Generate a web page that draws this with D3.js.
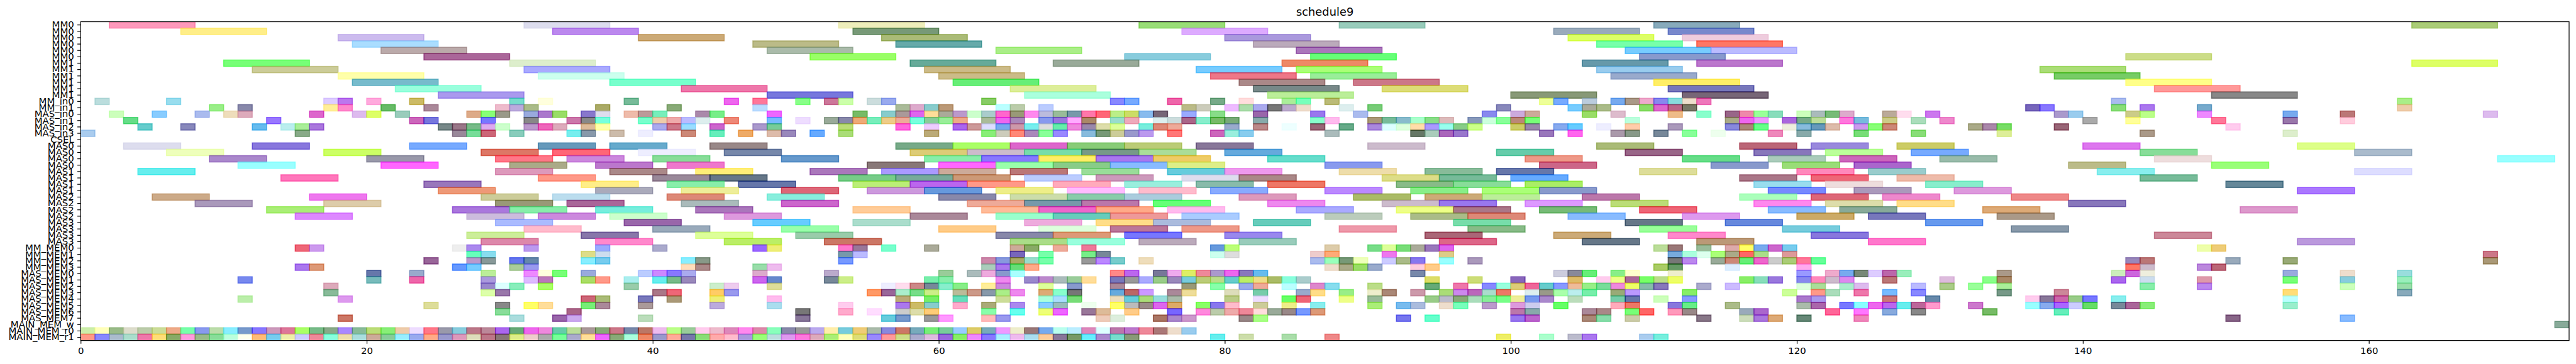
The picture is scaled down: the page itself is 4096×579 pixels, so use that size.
<!DOCTYPE html>
<html><head><meta charset="utf-8">
<style>html,body{margin:0;padding:0;background:#fff;overflow:hidden}svg{display:block}text{font-family:"DejaVu Sans",sans-serif;fill:#000}</style>
<script src="https://cdn.jsdelivr.net/npm/d3@7"></script>
</head><body>
<script>
const chartTitle = "schedule9";
const xTicks = [0,20,40,60,80,100,120,140,160];
const xMax = 174;
const rowLabels = ["MM0","MM0","MM0","MM0","MM0","MM0","MM1","MM1","MM1","MM1","MM1","MM1","MM_in0","MM_in1","MAS_in0","MAS_in1","MAS_in2","MAS_in3","CSEL","MAS0","MAS0","MAS0","MAS0","MAS1","MAS1","MAS1","MAS1","MAS2","MAS2","MAS2","MAS2","MAS3","MAS3","MAS3","MAS3","MM_MEM0","MM_MEM1","MM_MEM2","MM_MEM3","MAS_MEM0","MAS_MEM1","MAS_MEM2","MAS_MEM3","MAS_MEM4","MAS_MEM5","MAS_MEM6","MAS_MEM7","MAIN_MEM_w","MAIN_MEM_r0","MAIN_MEM_r1"];
// each row: [start time, visible colour]
const row00=[[2,"f9b"],[31,"dde"],[53,"eeb"],[74,"9d7"],[88,"9cb"],[110,"8ab"],[163,"ac7"]];
const row01=[[7,"fe8"],[33,"b8e"],[54,"797"],[77,"daf"],[103,"9ab"],[111,"78c"]];
const row02=[[18,"cbe"],[39,"ca7"],[56,"ab7"],[80,"a9d"],[104,"df6"],[112,"ecd"]];
const row03=[[19,"adf"],[47,"bb8"],[57,"6aa"],[82,"bab"],[106,"7fa"],[113,"f76"]];
const row04=[[21,"baa"],[48,"aba"],[64,"ae8"],[85,"a7b"],[108,"7cf"],[114,"bbf"]];
const row05=[[24,"a69"],[51,"9f6"],[73,"8cd"],[86,"6f7"],[109,"89c"],[143,"cd8"]];
const row06=[[10,"7f7"],[30,"dec"],[58,"6a9"],[68,"9a9"],[84,"e86"],[105,"69a"],[113,"b7c"],[163,"df6"]];
const row07=[[12,"cc9"],[31,"aaf"],[59,"cb8"],[78,"7cf"],[85,"af7"],[106,"9ce"],[137,"ad7"]];
const row08=[[18,"ffa"],[32,"cfe"],[60,"cb8"],[79,"e78"],[86,"9e9"],[107,"9ac"],[138,"7c6"]];
const row09=[[19,"7bc"],[37,"7fc"],[61,"6e7"],[81,"a88"],[89,"c78"],[110,"fe6"],[143,"ff8"]];
const row10=[[22,"9fd"],[42,"e7a"],[65,"de9"],[82,"788"],[91,"dd7"],[111,"77b"],[145,"f99"]];
const row11=[[25,"a9e"],[48,"77d"],[66,"afd"],[83,"be9"],[100,"897"],[112,"767"],[149,"888"]];
const row12=[[1,"bdd"],[6,"9de"],[17,"dcf"],[18,"b7e"],[20,"fad"],[23,"cb6"],[30,"7dc"],[32,"ffd"],[38,"7b9"],[45,"e6e"],[47,"f79"],[50,"8f8"],[52,"c79"],[53,"cfa"],[55,"cdd"],[56,"9ae"],[63,"8c6"],[72,"88f"],[73,"7af"],[76,"e6a"],[79,"7a8"],[81,"fdd"],[84,"ae9"],[85,"7fb"],[87,"bb7"],[102,"ef9"],[103,"7af"],[105,"bcd"],[107,"7ae"],[108,"a98"],[109,"eac"],[110,"88e"],[111,"8dd"],[112,"edc"],[113,"e7b"],[142,"abe"],[162,"ae8"]];
const row13=[[9,"9e8"],[11,"88a"],[17,"fe9"],[18,"f8c"],[21,"6b6"],[24,"a89"],[29,"ebc"],[30,"bad"],[31,"ab8"],[36,"aa6"],[41,"8a7"],[47,"bdf"],[57,"ab9"],[58,"dac"],[59,"8cc"],[60,"b97"],[64,"bff"],[65,"bca"],[67,"bcf"],[77,"bb8"],[78,"ccb"],[80,"ebf"],[81,"ada"],[82,"aae"],[83,"777"],[84,"bac"],[85,"edc"],[88,"dee"],[90,"7c7"],[99,"88b"],[104,"7cf"],[105,"aa9"],[106,"ab8"],[109,"8d6"],[110,"d6c"],[111,"b68"],[112,"776"],[136,"76b"],[137,"87f"],[142,"8d7"],[144,"a7e"],[148,"7ac"],[162,"eca"]];
const row14=[[2,"cfb"],[5,"8cf"],[8,"abe"],[10,"edb"],[11,"dab"],[16,"d6c"],[19,"dbe"],[20,"df5"],[22,"9cb"],[27,"da8"],[28,"8f7"],[29,"998"],[31,"9ad"],[32,"a7c"],[33,"9d6"],[35,"87c"],[36,"dde"],[38,"eba"],[39,"b99"],[40,"7eb"],[43,"a8a"],[44,"7e8"],[48,"e6f"],[54,"7b6"],[56,"8cc"],[57,"a99"],[58,"d6e"],[59,"fd9"],[60,"aa9"],[61,"b9c"],[62,"cfc"],[63,"acc"],[64,"f6c"],[65,"997"],[66,"f8e"],[67,"bbd"],[68,"9b9"],[69,"79a"],[70,"f7a"],[71,"f67"],[72,"be8"],[73,"cd6"],[74,"8be"],[75,"767"],[77,"9af"],[79,"8d8"],[82,"96a"],[86,"97e"],[89,"abe"],[98,"88e"],[100,"cad"],[101,"ca9"],[105,"9d6"],[107,"dbc"],[111,"eb8"],[113,"8fc"],[115,"968"],[116,"e8a"],[117,"9f9"],[118,"8db"],[120,"cfb"],[121,"abb"],[122,"7b7"],[123,"dac"],[126,"ba9"],[127,"fde"],[129,"c7e"],[138,"a9c"],[139,"9ce"],[143,"cc8"],[144,"bf8"],[148,"e8f"],[154,"7ae"],[158,"b77"],[168,"dbe"]];
const row15=[[3,"6d8"],[13,"97f"],[23,"c6b"],[24,"77d"],[28,"77f"],[31,"888"],[34,"c7a"],[35,"888"],[36,"7fd"],[39,"7fc"],[40,"eca"],[41,"eaa"],[42,"bbf"],[43,"dee"],[45,"e87"],[48,"7bf"],[50,"edf"],[52,"9a9"],[53,"88a"],[54,"ea7"],[55,"7eb"],[56,"ec8"],[57,"ea9"],[58,"7fd"],[59,"8c9"],[60,"9e9"],[61,"ea8"],[63,"ab9"],[64,"e6e"],[65,"a8b"],[67,"89e"],[68,"97d"],[69,"faf"],[70,"a86"],[72,"9dc"],[73,"eab"],[75,"dee"],[76,"cdd"],[77,"a68"],[78,"8ec"],[79,"7b6"],[80,"7a7"],[82,"8aa"],[86,"8fc"],[87,"fbe"],[90,"a97"],[91,"7b9"],[92,"8bc"],[93,"afc"],[94,"8d8"],[95,"dbb"],[97,"89b"],[98,"cfd"],[99,"8f9"],[100,"b87"],[101,"7f7"],[108,"bfd"],[115,"aa8"],[116,"e6e"],[117,"e9f"],[119,"a6d"],[120,"7a8"],[121,"bd9"],[123,"f7d"],[124,"7bd"],[126,"cc8"],[128,"adb"],[130,"e8c"],[140,"aaa"],[143,"ff9"],[149,"f79"],[154,"97a"],[158,"fcd"]];
const row16=[[4,"6cc"],[7,"88b"],[12,"6be"],[14,"bee"],[15,"ae9"],[16,"a7d"],[25,"788"],[26,"978"],[27,"7b8"],[28,"dae"],[29,"cfc"],[31,"b9c"],[32,"e6b"],[33,"dab"],[35,"db9"],[36,"ffa"],[40,"aae"],[41,"c78"],[42,"9df"],[44,"c6c"],[47,"a9c"],[48,"7c9"],[53,"bd7"],[57,"f6d"],[59,"ecf"],[61,"a6e"],[62,"c99"],[63,"ddf"],[64,"7ae"],[65,"c9a"],[66,"7ee"],[67,"ddd"],[68,"6ea"],[69,"e8d"],[70,"98a"],[71,"dda"],[72,"df9"],[74,"7ed"],[75,"d87"],[76,"ea9"],[80,"9ac"],[82,"b88"],[84,"eff"],[86,"967"],[88,"6a8"],[90,"a8d"],[91,"dff"],[92,"dfd"],[93,"fda"],[94,"a9f"],[95,"9fe"],[96,"8c8"],[97,"cf8"],[100,"cc6"],[101,"98a"],[103,"8ae"],[104,"6cf"],[106,"eef"],[108,"fca"],[111,"a9b"],[115,"88d"],[116,"a87"],[117,"6f8"],[119,"eed"],[120,"8bd"],[121,"69b"],[122,"dba"],[124,"c9e"],[125,"8f7"],[126,"c87"],[132,"aa8"],[133,"a8a"],[134,"7d6"],[138,"967"],[150,"fce"]];
const row17=[[0,"ace"],[15,"8a8"],[26,"989"],[27,"7d9"],[28,"c67"],[30,"8cb"],[34,"7ee"],[35,"89a"],[37,"cba"],[39,"eef"],[42,"c87"],[44,"6eb"],[46,"ea6"],[48,"dba"],[49,"98b"],[51,"6af"],[53,"ad7"],[59,"ba7"],[63,"8e7"],[64,"ccb"],[65,"f87"],[66,"a8b"],[67,"8f9"],[68,"98f"],[70,"8bd"],[71,"797"],[72,"cc9"],[73,"99c"],[74,"b9e"],[76,"f77"],[79,"c6b"],[80,"9ed"],[81,"8ce"],[87,"abb"],[93,"676"],[94,"acb"],[95,"a6b"],[96,"97c"],[102,"97b"],[104,"f6e"],[107,"a9a"],[108,"898"],[110,"789"],[112,"8f9"],[114,"efe"],[118,"e8b"],[120,"8aa"],[124,"7d7"],[128,"8d7"],[134,"de9"],[144,"a98"],[154,"dec"]];
const row18=[];
const row19=[[3,"dde"],[12,"87d"],[23,"7af"],[32,"69b"],[37,"6ac"],[44,"988"],[57,"7a8"],[61,"af6"],[65,"d6c"],[69,"8c7"],[73,"bc7"],[78,"879"],[90,"cbc"],[106,"ab7"],[116,"b67"],[121,"98d"],[127,"cc6"],[140,"d7e"],[155,"df8"]];
const row20=[[6,"efb"],[17,"cf6"],[28,"d76"],[33,"f67"],[39,"eef"],[45,"78a"],[58,"dc7"],[62,"cbc"],[66,"7da"],[70,"798"],[74,"ad9"],[80,"6ad"],[99,"6ca"],[108,"968"],[117,"87b"],[122,"bf9"],[128,"7af"],[144,"8d9"],[159,"abc"]];
const row21=[[9,"a8c"],[20,"99a"],[29,"f78"],[34,"c8d"],[40,"8d9"],[49,"69c"],[59,"8ea"],[63,"87f"],[67,"fe6"],[71,"a7e"],[75,"ec6"],[83,"6dc"],[101,"e98"],[112,"6d8"],[118,"acb"],[123,"c6b"],[130,"9ba"],[145,"edd"],[169,"9ff"]];
const row22=[[11,"9ff"],[21,"f6f"],[30,"aa8"],[36,"b7c"],[41,"e7c"],[55,"877"],[60,"f6f"],[64,"9fa"],[68,"8c8"],[72,"8bf"],[76,"de8"],[87,"89e"],[102,"c68"],[114,"89c"],[119,"9d7"],[124,"a6c"],[139,"bb8"],[149,"9f7"]];
const row23=[[4,"6ee"],[29,"d9b"],[37,"a88"],[43,"fe7"],[51,"a7b"],[56,"a9f"],[60,"ca9"],[65,"b77"],[70,"9d9"],[76,"6cd"],[80,"e9e"],[88,"eda"],[94,"8b9"],[99,"67a"],[109,"dd9"],[120,"f8b"],[125,"9cc"],[141,"8ee"],[159,"ddf"]];
const row24=[[14,"f7b"],[32,"f98"],[40,"989"],[44,"678"],[53,"7c8"],[57,"7a9"],[61,"c97"],[66,"bcf"],[71,"c9b"],[77,"dde"],[81,"a88"],[91,"dd8"],[95,"7b9"],[100,"6af"],[116,"a78"],[121,"e67"],[127,"eba"],[144,"7b9"]];
const row25=[[24,"97b"],[35,"fe8"],[41,"8ea"],[46,"67a"],[54,"be7"],[58,"b6e"],[62,"f98"],[68,"fab"],[73,"9ed"],[78,"8ba"],[83,"e76"],[92,"8b8"],[96,"8d9"],[101,"ae6"],[117,"9de"],[122,"edd"],[129,"8ec"],[150,"689"]];
const row26=[[25,"e97"],[36,"aab"],[42,"ee9"],[49,"d67"],[55,"c9d"],[59,"69d"],[64,"ee8"],[69,"fbf"],[74,"fbc"],[79,"8af"],[87,"b8f"],[93,"8e8"],[98,"af7"],[102,"89c"],[118,"78f"],[124,"a9b"],[131,"d9d"],[155,"a7f"]];
const row27=[[5,"ca8"],[16,"e7e"],[28,"cc9"],[33,"bde"],[41,"d87"],[48,"8ed"],[60,"88a"],[65,"cda"],[69,"8ca"],[73,"acd"],[81,"d9b"],[89,"ab6"],[94,"ca7"],[98,"be9"],[105,"b7a"],[116,"afb"],[121,"d67"],[126,"e8c"],[135,"e88"]];
const row28=[[8,"a9b"],[17,"dca"],[29,"997"],[34,"a69"],[42,"abb"],[49,"c6c"],[62,"ea9"],[66,"79a"],[70,"b7a"],[75,"6f7"],[83,"e8e"],[91,"cbc"],[95,"97e"],[101,"d9f"],[107,"bd7"],[117,"f8e"],[122,"dda"],[127,"fd8"],[139,"87b"]];
const row29=[[13,"ae7"],[26,"a7d"],[30,"8ea"],[36,"7ed"],[43,"a7b"],[54,"fc9"],[63,"fb9"],[67,"e6c"],[71,"fa8"],[76,"fbe"],[85,"aaf"],[92,"ef8"],[96,"a78"],[102,"7b7"],[109,"e67"],[118,"8bf"],[123,"8a9"],[133,"da7"],[151,"d9c"]];
const row30=[[15,"d8f"],[27,"cbd"],[32,"c8d"],[37,"cfc"],[45,"d9d"],[58,"a89"],[64,"9fc"],[68,"6cb"],[72,"e99"],[77,"acf"],[87,"bcb"],[93,"ab8"],[97,"d87"],[104,"8bf"],[112,"d9e"],[120,"ca6"],[125,"77b"],[134,"a98"]];
const row31=[[29,"abf"],[38,"96a"],[47,"6cf"],[54,"adc"],[66,"ead"],[71,"fd8"],[75,"abd"],[82,"6cb"],[96,"7da"],[108,"678"],[115,"68d"],[129,"69e"]];
const row32=[[31,"fbc"],[40,"9ab"],[49,"9fa"],[60,"fc8"],[67,"dfd"],[72,"b79"],[77,"e98"],[88,"e9a"],[97,"8b8"],[109,"9f9"],[119,"7cd"],[135,"89a"]];
const row33=[[27,"ce9"],[35,"87a"],[43,"df9"],[50,"9ca"],[64,"88a"],[68,"d97"],[73,"77f"],[80,"98e"],[94,"a67"],[103,"ca7"],[111,"f8c"],[121,"87d"],[145,"c89"]];
const row34=[[28,"d8a"],[36,"f8c"],[45,"be6"],[52,"c76"],[65,"ad8"],[69,"9fd"],[74,"bab"],[81,"9cb"],[95,"d68"],[105,"678"],[113,"b97"],[125,"f7c"],[155,"b9d"]];
const row35=[[15,"e67"],[16,"c9e"],[26,"eee"],[27,"a8e"],[31,"b9e"],[36,"9af"],[40,"aac"],[47,"96f"],[48,"ee7"],[53,"f7c"],[54,"979"],[56,"7fc"],[59,"aa9"],[65,"ca9"],[66,"8a6"],[68,"ea9"],[70,"e79"],[79,"69d"],[80,"bf7"],[87,"dca"],[90,"7d8"],[91,"df9"],[92,"7d7"],[93,"aa9"],[94,"97b"],[95,"d6e"],[110,"bd9"],[111,"977"],[113,"9b9"],[115,"daa"],[116,"ff6"],[117,"7ae"],[118,"c6c"],[119,"7ce"],[148,"efa"],[149,"ec7"]];
const row36=[[27,"6fb"],[28,"8de"],[35,"dd8"],[36,"cde"],[53,"79a"],[54,"bbf"],[65,"76b"],[67,"7fa"],[70,"7e8"],[71,"789"],[79,"cfe"],[80,"ddd"],[86,"ecc"],[87,"fa7"],[91,"e7e"],[95,"dc8"],[111,"7ad"],[112,"afd"],[113,"dfe"],[114,"af7"],[115,"aa8"],[116,"f66"],[117,"ad8"],[119,"d99"],[168,"c78"]];
const row37=[[24,"969"],[27,"b9c"],[28,"899"],[30,"67e"],[31,"68a"],[35,"8ef"],[36,"7ce"],[42,"8ef"],[43,"898"],[53,"79f"],[63,"c8a"],[64,"89d"],[65,"aa6"],[66,"9dc"],[67,"7fa"],[70,"999"],[71,"b8f"],[72,"7cc"],[74,"edb"],[86,"abe"],[87,"9fb"],[88,"797"],[89,"efb"],[91,"ccf"],[92,"ab8"],[93,"87e"],[95,"9ff"],[97,"a9b"],[111,"777"],[112,"b8e"],[114,"9a9"],[115,"c87"],[116,"6e7"],[117,"e6c"],[118,"ccc"],[119,"ac7"],[120,"f79"],[121,"6f9"],[143,"98b"],[144,"b77"],[150,"9ab"],[154,"9a7"],[168,"a97"]];
const row38=[[15,"a7e"],[16,"d97"],[26,"69f"],[27,"7cf"],[30,"ac9"],[31,"99e"],[42,"fdb"],[43,"a88"],[47,"9da"],[48,"ebe"],[63,"acb"],[64,"a7e"],[65,"6d7"],[66,"fa8"],[87,"edc"],[88,"aa8"],[89,"9d6"],[90,"9ac"],[93,"fcd"],[94,"fc8"],[110,"ac6"],[111,"696"],[115,"def"],[120,"fae"],[143,"f76"],[144,"cbc"],[148,"b8d"],[149,"b67"]];
const row39=[[20,"67a"],[23,"9ac"],[28,"be9"],[31,"e8f"],[32,"ffd"],[33,"7f7"],[35,"9ad"],[39,"bcf"],[40,"c8f"],[41,"87f"],[42,"aae"],[47,"dac"],[52,"bac"],[60,"9c9"],[62,"abb"],[63,"ead"],[64,"89c"],[65,"aff"],[72,"f88"],[73,"b6e"],[75,"779"],[76,"eae"],[77,"de6"],[78,"e89"],[79,"a9c"],[80,"e6e"],[81,"87b"],[82,"6be"],[93,"78a"],[103,"ccd"],[104,"889"],[105,"6e7"],[107,"8e8"],[108,"ffc"],[111,"eec"],[120,"99f"],[122,"eac"],[123,"7ae"],[124,"787"],[125,"dcf"],[126,"b6a"],[127,"9eb"],[134,"a98"],[142,"ceb"],[143,"c6d"],[144,"eed"],[154,"9ad"],[158,"edc"],[162,"9dd"]];
const row40=[[11,"78e"],[20,"7bb"],[23,"e6a"],[28,"a9d"],[31,"dbf"],[32,"b7b"],[35,"ad6"],[36,"f98"],[38,"aee"],[40,"6ee"],[41,"7b8"],[42,"98b"],[47,"c6e"],[48,"68c"],[52,"789"],[53,"ce8"],[59,"7ea"],[60,"8ea"],[64,"e8e"],[66,"98c"],[67,"b8c"],[68,"abb"],[69,"9c9"],[70,"fd9"],[72,"77b"],[73,"999"],[74,"aaf"],[75,"9c8"],[76,"98b"],[77,"7cd"],[78,"bc7"],[79,"bd8"],[80,"6cc"],[81,"be6"],[82,"ed8"],[83,"ab6"],[84,"8fd"],[85,"acc"],[94,"dd6"],[97,"cd7"],[100,"86b"],[104,"db6"],[106,"fce"],[107,"ef8"],[108,"a69"],[109,"7f6"],[110,"bd8"],[111,"ef6"],[116,"8e6"],[117,"8db"],[118,"97d"],[120,"88e"],[121,"f8b"],[122,"cbc"],[123,"d8e"],[126,"b77"],[130,"dbd"],[133,"8f8"],[134,"a86"],[142,"a6e"],[144,"cde"],[148,"d9a"],[154,"7f7"],[158,"8cd"],[162,"9eb"]];
const row41=[[17,"dab"],[28,"98c"],[29,"dff"],[30,"8eb"],[32,"af6"],[38,"9ca"],[44,"cec"],[45,"ece"],[48,"dd9"],[56,"eef"],[57,"fde"],[58,"c88"],[59,"789"],[60,"8ec"],[61,"8e8"],[63,"fe9"],[64,"c8d"],[67,"df9"],[69,"89c"],[72,"a89"],[77,"997"],[79,"8fa"],[81,"9ae"],[82,"ea9"],[84,"bff"],[86,"d8c"],[87,"8de"],[90,"bd8"],[94,"6a7"],[96,"e7a"],[98,"88f"],[99,"9fd"],[100,"dc7"],[101,"e69"],[102,"6cc"],[103,"89f"],[104,"eb9"],[105,"9e8"],[106,"7d9"],[107,"e8d"],[108,"ef6"],[109,"8ba"],[110,"87b"],[113,"aac"],[115,"cbf"],[120,"dfd"],[121,"ad9"],[123,"aec"],[124,"dbe"],[128,"bbf"],[130,"ac8"],[132,"9f9"],[134,"ae9"],[144,"8ea"],[148,"b8e"],[158,"cfb"],[162,"9da"]];
const row42=[[17,"8b9"],[28,"dfa"],[29,"97a"],[40,"a78"],[41,"e67"],[44,"fc6"],[45,"99e"],[55,"f96"],[56,"969"],[57,"aec"],[58,"7d8"],[59,"ce8"],[61,"bb9"],[62,"c98"],[63,"89a"],[64,"ae8"],[65,"e8e"],[67,"da7"],[68,"8fc"],[69,"777"],[72,"6ad"],[73,"b66"],[74,"c9f"],[76,"a89"],[77,"ed9"],[80,"ddb"],[82,"7ca"],[85,"9ac"],[86,"fd8"],[88,"9e8"],[90,"eec"],[91,"a87"],[93,"c9a"],[95,"ad7"],[96,"c8e"],[97,"b6b"],[98,"adc"],[99,"e76"],[101,"dee"],[102,"998"],[103,"afa"],[104,"bee"],[105,"7ea"],[107,"9a7"],[108,"b9f"],[112,"8e6"],[119,"cf9"],[121,"f98"],[122,"adb"],[124,"e7a"],[126,"7bf"],[128,"88f"],[134,"798"],[138,"c89"],[154,"fd7"],[162,"8ab"]];
const row43=[[11,"bea"],[18,"d9e"],[35,"c67"],[36,"ab7"],[39,"77b"],[41,"a97"],[44,"ee7"],[48,"fbe"],[57,"ba7"],[59,"7e6"],[61,"6db"],[64,"cd9"],[67,"afd"],[68,"adf"],[69,"7d7"],[72,"edb"],[73,"6cd"],[74,"ad7"],[75,"9dd"],[76,"aba"],[80,"bc8"],[82,"edf"],[84,"6f6"],[85,"e67"],[88,"ef8"],[90,"9b9"],[94,"9c8"],[95,"bbc"],[96,"8a7"],[97,"adb"],[98,"8e9"],[99,"7f8"],[100,"ee9"],[101,"79e"],[102,"a8c"],[104,"bdb"],[107,"7ca"],[108,"67a"],[110,"cfb"],[112,"89f"],[120,"a7c"],[121,"a9e"],[126,"c77"],[129,"68a"],[136,"fce"],[137,"879"],[138,"c6a"],[139,"9c8"],[140,"77f"],[142,"8ee"],[154,"bff"]];
const row44=[[24,"dd9"],[29,"888"],[31,"ff6"],[32,"fd9"],[35,"7e7"],[36,"a89"],[39,"a99"],[44,"bad"],[48,"ade"],[53,"fce"],[57,"a7e"],[58,"cb6"],[59,"8cc"],[61,"fac"],[63,"aa7"],[65,"a8e"],[67,"8cf"],[68,"9bb"],[70,"efe"],[72,"ff6"],[73,"bbb"],[74,"988"],[75,"d6e"],[76,"da6"],[78,"8f6"],[79,"87e"],[80,"fbc"],[82,"cc9"],[84,"ee8"],[86,"8ee"],[90,"ae7"],[92,"7be"],[93,"abd"],[95,"edc"],[96,"7fb"],[98,"b9c"],[100,"d9d"],[101,"cce"],[103,"6f6"],[107,"fab"],[108,"e76"],[111,"87d"],[112,"6e8"],[115,"ab8"],[120,"aba"],[121,"a6a"],[123,"77f"],[124,"8ff"],[125,"e6e"],[126,"b6e"],[127,"6ee"],[128,"b69"],[129,"f9c"],[132,"c7c"],[136,"9ff"],[137,"8ae"],[138,"a6f"],[139,"ccf"],[140,"6d6"],[142,"789"],[143,"a69"],[144,"8e7"],[154,"9ec"]];
const row45=[[29,"8d9"],[34,"a68"],[50,"777"],[53,"fac"],[55,"fdf"],[57,"ccc"],[58,"dda"],[59,"fc7"],[63,"8fa"],[65,"6fe"],[67,"ef7"],[68,"e6f"],[70,"979"],[71,"db9"],[73,"fc8"],[76,"76f"],[78,"f8d"],[79,"bca"],[80,"eaa"],[81,"e89"],[82,"fdd"],[83,"9a9"],[84,"988"],[85,"79f"],[86,"d97"],[100,"b7a"],[101,"8aa"],[105,"a89"],[106,"a88"],[108,"7f7"],[109,"f66"],[111,"f9b"],[112,"988"],[116,"9ab"],[117,"a6c"],[122,"f69"],[124,"f7f"],[126,"8ad"],[128,"888"],[133,"7b6"],[138,"6eb"]];
const row46=[[18,"c76"],[30,"add"],[33,"96a"],[34,"cae"],[39,"bdb"],[50,"879"],[56,"6cd"],[57,"79c"],[59,"999"],[60,"f9f"],[63,"fbb"],[64,"99e"],[71,"ecb"],[72,"ded"],[75,"a76"],[76,"a8c"],[77,"c9c"],[81,"988"],[82,"af8"],[92,"77e"],[94,"6fc"],[100,"97e"],[101,"b6c"],[105,"a87"],[106,"8da"],[108,"cca"],[113,"878"],[116,"cdb"],[117,"a7d"],[118,"da7"],[120,"687"],[124,"e8b"],[150,"868"],[158,"8bf"]];
const row47=[[173,"8a9"]];
const row48=[[0,"cea"],[1,"ffb"],[2,"9b8"],[3,"ddc"],[4,"bca"],[5,"cd9"],[6,"ea8"],[7,"7fa"],[8,"89e"],[9,"bda"],[10,"8ef"],[11,"79c"],[12,"87f"],[13,"c9b"],[14,"d79"],[15,"af6"],[16,"7b8"],[17,"8a8"],[18,"a8f"],[19,"8b9"],[20,"bd7"],[21,"8e7"],[22,"eca"],[23,"edf"],[24,"f78"],[25,"99a"],[26,"8cd"],[27,"b78"],[28,"b89"],[29,"a6e"],[30,"6a7"],[31,"e6e"],[32,"e8d"],[33,"6ca"],[34,"bd9"],[35,"a99"],[36,"8a7"],[37,"c78"],[38,"78a"],[39,"b76"],[40,"ebe"],[41,"bf8"],[42,"9c9"],[43,"fce"],[44,"ebc"],[45,"d8b"],[46,"f8e"],[47,"d8a"],[48,"8fb"],[49,"88a"],[50,"999"],[51,"bae"],[52,"fea"],[53,"7cd"],[54,"ec7"],[55,"aba"],[56,"88d"],[57,"c76"],[58,"7ab"],[59,"7e7"],[60,"7c9"],[61,"9cf"],[62,"dc6"],[63,"7ab"],[64,"e9f"],[65,"eec"],[66,"977"],[67,"7ae"],[68,"bfe"],[69,"bef"],[70,"d8b"],[71,"dff"],[72,"b7a"],[73,"b7c"],[74,"e89"],[75,"a77"],[76,"edc"],[77,"9ce"]];
const row49=[[0,"f98"],[1,"88f"],[2,"abc"],[3,"adc"],[4,"e7a"],[5,"fd7"],[6,"8a6"],[7,"f9d"],[8,"9b8"],[9,"8d9"],[10,"bfd"],[11,"ffe"],[12,"fb7"],[13,"7ce"],[14,"eea"],[15,"ccf"],[16,"e89"],[17,"8fd"],[18,"eda"],[19,"add"],[20,"ca9"],[21,"8c9"],[22,"9ef"],[23,"9ae"],[24,"fa8"],[25,"99c"],[26,"d9b"],[27,"ddb"],[28,"b78"],[29,"877"],[30,"de8"],[31,"ecc"],[32,"aaa"],[33,"7f9"],[34,"aac"],[35,"fd9"],[36,"e6f"],[37,"8a7"],[38,"afd"],[39,"e86"],[40,"99c"],[41,"fa9"],[42,"77a"],[43,"8d7"],[44,"faa"],[45,"fbc"],[46,"a9d"],[47,"9f7"],[48,"bdd"],[49,"d9e"],[50,"f7d"],[51,"dab"],[52,"ae7"],[53,"ffb"],[54,"dd7"],[55,"98f"],[56,"f99"],[57,"cd8"],[58,"aac"],[59,"dbd"],[60,"96d"],[61,"8e6"],[62,"e8f"],[63,"87f"],[64,"aef"],[65,"ebe"],[66,"ade"],[67,"fc9"],[68,"879"],[69,"796"],[70,"6ef"],[71,"a8c"],[72,"7dc"],[73,"897"],[79,"6ee"],[81,"cda"],[84,"ada"],[87,"e88"],[99,"ee6"],[102,"afc"],[104,"bbc"],[105,"a7e"],[109,"ace"],[110,"7ed"]];
const rows=[row00,row01,row02,row03,row04,row05,row06,row07,row08,row09,row10,row11,row12,row13,row14,row15,row16,row17,row18,row19,row20,row21,row22,row23,row24,row25,row26,row27,row28,row29,row30,row31,row32,row33,row34,row35,row36,row37,row38,row39,row40,row41,row42,row43,row44,row45,row46,row47,row48,row49];

const W=4096,H=579,k=4096/7461;
const m={left:233.6*k,right:7441*k,top:63*k,bottom:986.6*k};
const alpha=0.6, edge=2.72*k, spine=2.2*k;
const durationOf=l=>/^MM\d/.test(l)?6:/^MAS\d/.test(l)?4:1;
const baseColour=h=>{const c=d3.rgb("#"+h);const f=v=>Math.max(0,Math.min(255,(v-255*(1-alpha))/alpha));return d3.rgb(f(c.r),f(c.g),f(c.b)).formatHex();};

const x=d3.scaleLinear().domain([0,xMax]).range([m.left,m.right]);
const y=d3.scaleBand().domain(d3.range(rowLabels.length)).range([m.top,m.bottom]);
const svg=d3.select("body").append("svg").attr("width",W).attr("height",H).attr("viewBox",`0 0 ${W} ${H}`);
svg.append("defs").append("clipPath").attr("id","plot").append("rect").attr("x",m.left).attr("y",m.top).attr("width",m.right-m.left).attr("height",m.bottom-m.top);
const bars=rows.flatMap((r,i)=>r.map(([s,c])=>({row:i,start:s,dur:durationOf(rowLabels[i]),colour:baseColour(c)})));
svg.append("g").attr("clip-path","url(#plot)").selectAll("rect").data(bars).join("rect")
 .attr("x",d=>x(d.start)).attr("y",d=>y(d.row)).attr("width",d=>x(d.start+d.dur)-x(d.start)).attr("height",y.bandwidth())
 .attr("fill",d=>d.colour).attr("fill-opacity",alpha).attr("stroke",d=>d.colour).attr("stroke-opacity",alpha).attr("stroke-width",edge);

const tl=9.5*k,pad=9.5*k,fs=27.2*k;
const gx=svg.append("g").attr("transform",`translate(0,${m.bottom})`).call(d3.axisBottom(x).tickValues(xTicks).tickFormat(d3.format("d")).tickSize(tl).tickPadding(pad));
const gy=svg.append("g").attr("transform",`translate(${m.left},0)`).call(d3.axisLeft(y).tickFormat(i=>rowLabels[i]).tickSize(tl).tickPadding(pad));
[gx,gy].forEach(g=>{g.select(".domain").remove();g.selectAll("line").attr("stroke","#000").attr("stroke-width",spine);g.selectAll("text").attr("font-size",fs).attr("font-family",'"DejaVu Sans"');});
svg.append("rect").attr("x",m.left).attr("y",m.top).attr("width",m.right-m.left).attr("height",m.bottom-m.top).attr("fill","none").attr("stroke","#000").attr("stroke-width",spine);
svg.append("text").attr("x",(m.left+m.right)/2).attr("y",45.5*k).attr("text-anchor","middle").attr("font-size",32.6*k).text(chartTitle);
</script>
</body></html>
